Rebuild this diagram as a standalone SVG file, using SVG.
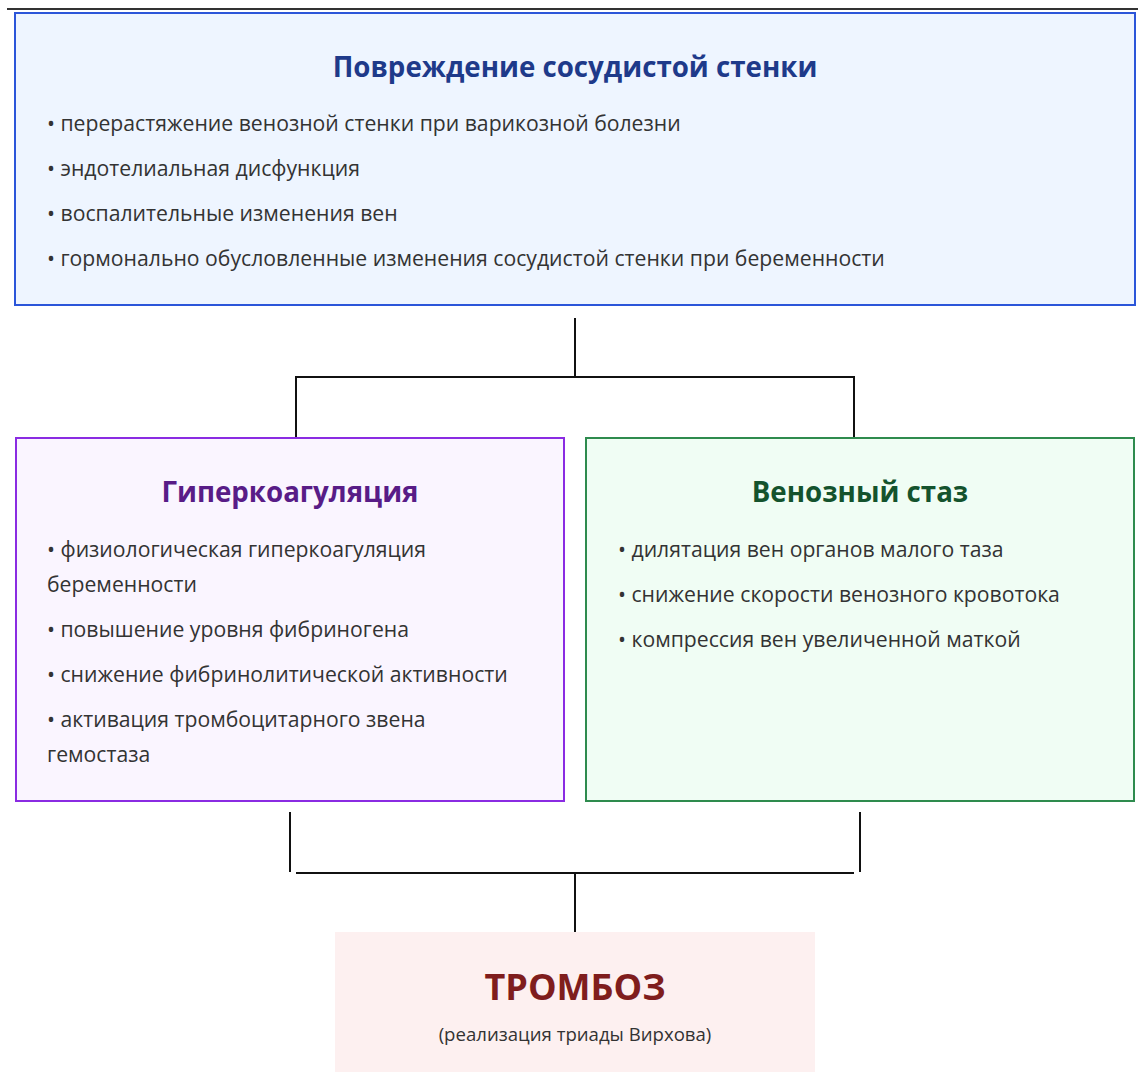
<svg xmlns="http://www.w3.org/2000/svg" width="1138" height="1072" viewBox="0 0 1138 1072">
<style>
.b{font-family:"Open Sans","Noto Sans","DejaVu Sans",sans-serif;font-size:21.2px;fill:#333}
.t{font-family:"Open Sans","Noto Sans","DejaVu Sans",sans-serif;font-weight:bold;font-size:27.7px;text-anchor:middle}
.c{stroke:#111;stroke-width:2;fill:none}
</style>
<rect width="1138" height="1072" fill="#fff"/>
<line x1="7" y1="9" x2="1138" y2="9" stroke="#333" stroke-width="2"/>
<g id="n-wall">
<rect x="15" y="13" width="1120" height="292" fill="#eef5ff" stroke="#2b55d9" stroke-width="2"/>
<text class="t" x="575" y="77" fill="#1e3a8a">Повреждение сосудистой стенки</text>
<text class="b" x="47" y="131">• перерастяжение венозной стенки при варикозной болезни</text>
<text class="b" x="47" y="176">• эндотелиальная дисфункция</text>
<text class="b" x="47" y="221">• воспалительные изменения вен</text>
<text class="b" x="47" y="266">• гормонально обусловленные изменения сосудистой стенки при беременности</text>
</g>
<g id="n-hyper">
<rect x="16" y="438" width="548" height="363" fill="#faf5ff" stroke="#8a2be2" stroke-width="2"/>
<text class="t" x="290" y="502" fill="#581c87">Гиперкоагуляция</text>
<text class="b" x="47" y="557">• физиологическая гиперкоагуляция</text>
<text class="b" x="47" y="592">беременности</text>
<text class="b" x="47" y="637">• повышение уровня фибриногена</text>
<text class="b" x="47" y="682">• снижение фибринолитической активности</text>
<text class="b" x="47" y="727">• активация тромбоцитарного звена</text>
<text class="b" x="47" y="762">гемостаза</text>
</g>
<g id="n-stasis">
<rect x="586" y="438" width="548" height="363" fill="#f0fdf4" stroke="#2e8b4e" stroke-width="2"/>
<text class="t" x="860" y="502" fill="#14532d">Венозный стаз</text>
<text class="b" x="618" y="557">• дилятация вен органов малого таза</text>
<text class="b" x="618" y="602">• снижение скорости венозного кровотока</text>
<text class="b" x="618" y="647">• компрессия вен увеличенной маткой</text>
</g>
<g id="n-thrombosis">
<rect x="335" y="932" width="480" height="140" fill="#fdf0f0"/>
<text class="t" x="575" y="1000" fill="#7f1d1d" style="font-size:36px">ТРОМБОЗ</text>
<text class="b" x="575" y="1041" style="text-anchor:middle;font-size:18.6px">(реализация триады Вирхова)</text>
</g>
<g id="connectors">
<polyline class="c" points="575,318 575,377"/>
<polyline class="c" points="296,437 296,377 854,377 854,437"/>
<line class="c" x1="290" y1="812" x2="290" y2="872"/>
<line class="c" x1="860" y1="812" x2="860" y2="872"/>
<line class="c" x1="296" y1="873" x2="854" y2="873"/>
<line class="c" x1="575" y1="873" x2="575" y2="932"/>
</g>
</svg>
